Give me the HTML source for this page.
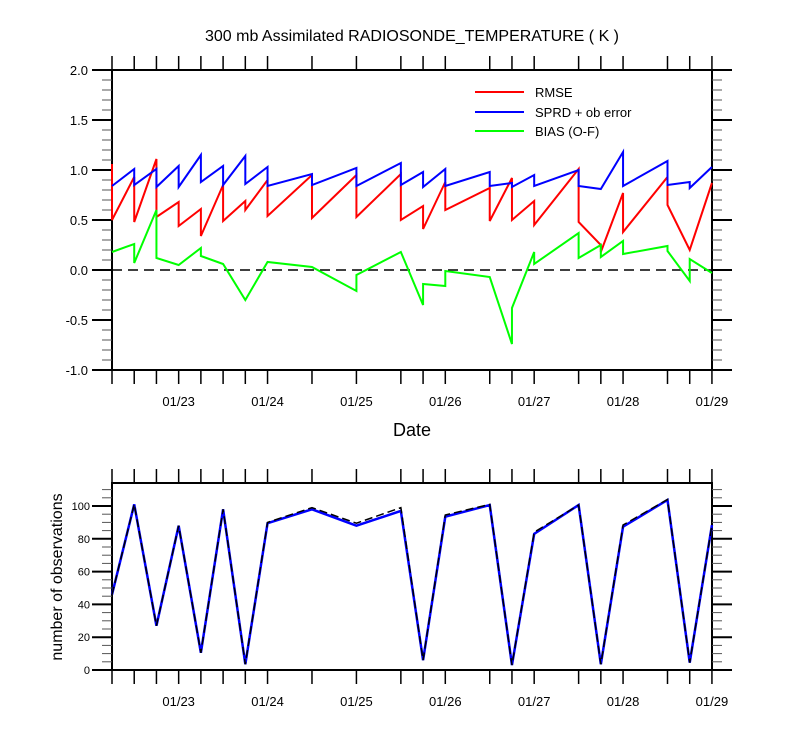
<!DOCTYPE html>
<html><head><meta charset="utf-8"><style>
html,body{margin:0;padding:0;background:#fff}
svg{display:block;font-family:"Liberation Sans",Arial,sans-serif}
</style></head><body>
<svg id="chart" width="800" height="750" xmlns="http://www.w3.org/2000/svg">
<text x="412" y="41" font-size="16" text-anchor="middle">300 mb Assimilated RADIOSONDE_TEMPERATURE ( K )</text>
<text x="412" y="436" font-size="18" text-anchor="middle">Date</text>
<text transform="translate(62,577) rotate(-90)" font-size="16" text-anchor="middle">number of observations</text>
<g id="legend">
<line x1="475" y1="92" x2="524" y2="92" stroke="#f00" stroke-width="2"/>
<text x="535" y="97" font-size="13">RMSE</text>
<line x1="475" y1="112" x2="524" y2="112" stroke="#00f" stroke-width="2"/>
<text x="535" y="117" font-size="13">SPRD + ob error</text>
<line x1="475" y1="131" x2="524" y2="131" stroke="#0f0" stroke-width="2"/>
<text x="535" y="136" font-size="13">BIAS (O-F)</text>
</g>
</svg>
<script>
// time index in 6-hour steps from 01/22 06Z
const tickIdx = [0,1,2,3,4,5,6,7,9,11,13,14,15,17,18,19,21,22,23,25,26,27];
const dateLabels = ["01/23","01/24","01/25","01/26","01/27","01/28","01/29"];
const dateLabelIdx = [3,7,11,15,19,23,27];
const yTopTicks = [2.0,1.5,1.0,0.5,0.0,-0.5,-1.0];
const yTopLabels = ["2.0","1.5","1.0","0.5","0.0","-0.5","-1.0"];
const yBotTicks = [0,20,40,60,80,100];
const rmseT = [0,0,1,1,2,2,3,3,4,4,5,5,6,6,7,7,9,9,11,11,13,13,14,14,15,15,17,17,18,18,19,19,21,21,22,22,23,23,25,25,26,27];
const rmseV = [1.06,0.50,0.93,0.48,1.11,0.53,0.68,0.44,0.61,0.34,0.85,0.49,0.69,0.60,0.90,0.54,0.95,0.52,0.95,0.53,0.96,0.50,0.64,0.41,0.88,0.60,0.82,0.49,0.92,0.50,0.69,0.45,1.01,0.48,0.25,0.18,0.77,0.38,0.93,0.65,0.20,0.87];
const sprdT = [0,1,1,2,2,3,3,4,4,5,5,6,6,7,7,9,9,11,11,13,13,14,14,15,15,17,17,18,18,19,19,21,21,22,23,23,25,25,26,26,27];
const sprdV = [0.84,1.01,0.85,1.01,0.83,1.04,0.83,1.15,0.88,1.04,0.85,1.14,0.86,1.03,0.84,0.96,0.85,1.02,0.84,1.07,0.85,0.98,0.83,1.01,0.84,0.98,0.84,0.87,0.83,0.95,0.84,1.00,0.84,0.81,1.18,0.84,1.09,0.85,0.88,0.82,1.03];
const biasT = [0,1,1,2,2,3,4,4,5,6,7,9,11,11,13,14,14,15,15,17,18,18,19,19,21,21,22,22,23,23,25,25,26,26,27];
const biasV = [0.18,0.26,0.07,0.60,0.12,0.05,0.22,0.14,0.06,-0.30,0.08,0.03,-0.21,-0.05,0.18,-0.35,-0.14,-0.16,-0.01,-0.07,-0.74,-0.38,0.18,0.06,0.37,0.12,0.25,0.13,0.29,0.16,0.24,0.19,-0.11,0.11,-0.03];
const obsT = [0,1,2,3,4,5,6,7,9,11,13,14,15,17,18,19,21,22,23,25,26,27];
const obsPossible = [46,101,27,88,10.5,98,3.5,90,99,89.5,99,6,94.5,101,3,84,100.6,3.5,88.4,104,4.5,88.4];
const obsUsed = [46,101,27,88,10.5,98,3.5,89.5,98,88,97,6,93.5,100.6,3,83,100.6,3.5,87.4,103.7,4.5,88.4];

const NS="http://www.w3.org/2000/svg";
const svg=document.getElementById('chart');
const X0=112,DX=22.22;
const x=i=>X0+i*DX;
const yT=v=>270-100*v;
const yB=v=>670-1.64*v;
function mk(tag,attrs){const e=document.createElementNS(NS,tag);for(const k in attrs)e.setAttribute(k,attrs[k]);svg.appendChild(e);return e;}
function frame(top,bot,name){
  const r=mk('rect',{x:112,y:top,width:600,height:bot-top,fill:'none',stroke:'#000','stroke-width':2});
  
  
  tickIdx.forEach(i=>{
    const a=mk('line',{x1:x(i),x2:x(i),y1:top,y2:top-14,stroke:'#000','stroke-width':1.5});
    
    
    const b=mk('line',{x1:x(i),x2:x(i),y1:bot,y2:bot+14,stroke:'#000','stroke-width':1.5});
    
    
  });
  dateLabels.forEach((l,k)=>{
    const t=mk('text',{x:x(dateLabelIdx[k]),y:bot+36,'font-size':13,'text-anchor':'middle'});
    t.textContent=l;
    
    
  });
}
frame(70,370,'top-plot-frame');
frame(483,670,'bottom-plot-frame');
// top y ticks
for(let v=-1.0;v<=2.0001;v+=0.1){
  const maj=Math.abs(v*2-Math.round(v*2))<1e-6;
  const L=maj?20:10;
  [[112,112-L],[712,712+L]].forEach(p=>{
    const t=mk('line',{x1:p[0],x2:p[1],y1:yT(v),y2:yT(v),stroke:maj?'#000':'#555','stroke-width':maj?2:1});
    
    
  });
}
yTopTicks.forEach((v,k)=>{
  const t=mk('text',{x:88,y:yT(v)+5,'font-size':13,'text-anchor':'end'});
  t.textContent=yTopLabels[k];
  
  
});
for(let v=0;v<=110;v+=5){
  const maj=v%20===0;
  const L=maj?20:10;
  [[112,112-L],[712,712+L]].forEach(p=>{
    const t=mk('line',{x1:p[0],x2:p[1],y1:yB(v),y2:yB(v),stroke:maj?'#000':'#555','stroke-width':maj?2:1});
    
    
  });
}
yBotTicks.forEach(v=>{
  const t=mk('text',{x:90,y:yB(v)+4,'font-size':11,'text-anchor':'end'});
  t.textContent=String(v);
  
  
});
const z=mk('line',{x1:112,x2:712,y1:yT(0),y2:yT(0),stroke:'#000','stroke-width':1.5,'stroke-dasharray':'10,6'});


function series(T,V,yf,color,name,dash,w){
  const p=mk('polyline',{points:T.map((t,k)=>x(t)+','+yf(V[k])).join(' '),fill:'none',stroke:color,'stroke-width':w||2});
  if(dash)p.setAttribute('stroke-dasharray',dash);
  
  
}
series(rmseT,rmseV,yT,'#f00','rmse-line');
series(sprdT,sprdV,yT,'#00f','sprd-line');
series(biasT,biasV,yT,'#0f0','bias-line');
series(obsT,obsUsed,yB,'#00f','obs-used-line',null,2.5);
series(obsT,obsPossible,yB,'#000','obs-possible-line','8,4',1.5);
</script>
</body></html>
